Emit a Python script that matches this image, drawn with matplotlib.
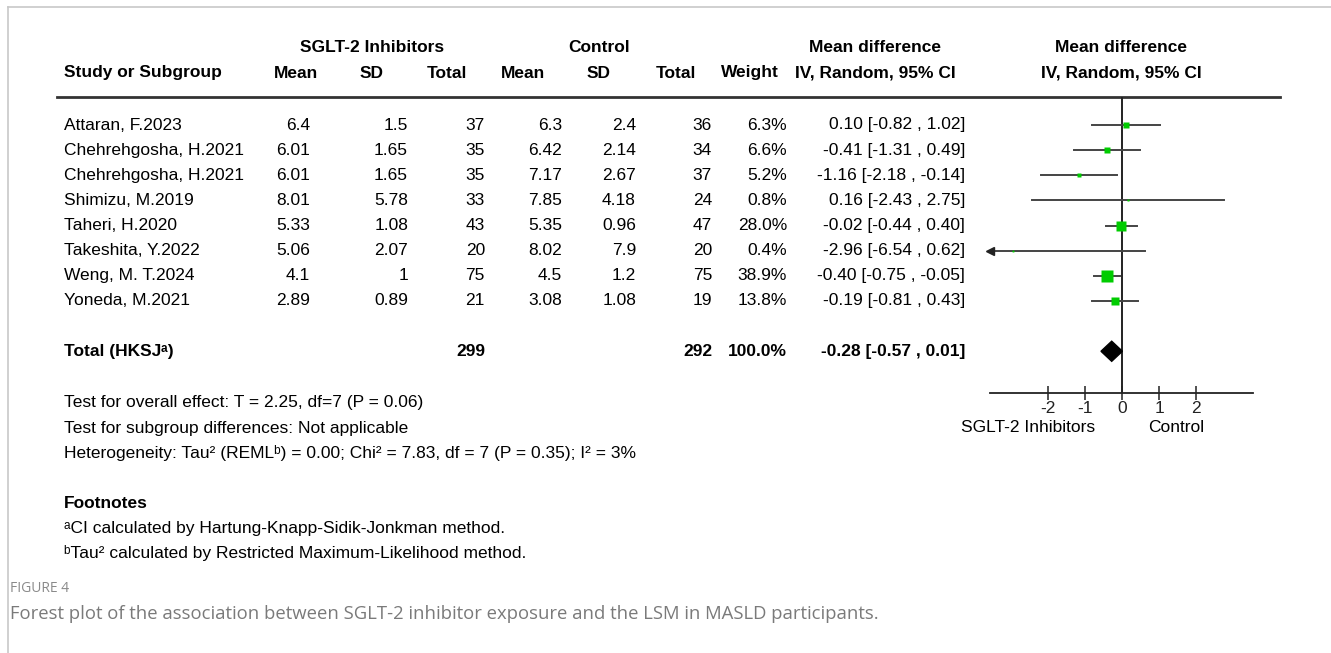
import matplotlib
matplotlib.use("Agg")
import matplotlib.pyplot as plt
import numpy as np

# study-level data
studies = ["Attaran, F.2023", "Chehrehgosha, H.2021", "Chehrehgosha, H.2021", "Shimizu, M.2019",
           "Taheri, H.2020", "Takeshita, Y.2022", "Weng, M. T.2024", "Yoneda, M.2021"]
exp_mean = ["6.4", "6.01", "6.01", "8.01", "5.33", "5.06", "4.1", "2.89"]
exp_sd = ["1.5", "1.65", "1.65", "5.78", "1.08", "2.07", "1", "0.89"]
exp_n = [37, 35, 35, 33, 43, 20, 75, 21]
ctl_mean = ["6.3", "6.42", "7.17", "7.85", "5.35", "8.02", "4.5", "3.08"]
ctl_sd = ["2.4", "2.14", "2.67", "4.18", "0.96", "7.9", "1.2", "1.08"]
ctl_n = [36, 34, 37, 24, 47, 20, 75, 19]
weight = [6.3, 6.6, 5.2, 0.8, 28.0, 0.4, 38.9, 13.8]
md = [0.10, -0.41, -1.16, 0.16, -0.02, -2.96, -0.40, -0.19]
ci_lo = [-0.82, -1.31, -2.18, -2.43, -0.44, -6.54, -0.75, -0.81]
ci_hi = [1.02, 0.49, -0.14, 2.75, 0.40, 0.62, -0.05, 0.43]

total_md, total_lo, total_hi = -0.28, -0.57, 0.01
total_exp_n, total_ctl_n = 299, 292
xticks = [-2, -1, 0, 1, 2]

W, H = 1331, 653
FONT = ["Liberation Sans", "DejaVu Sans"]
FS = 12.5
GREEN = "#00cc00"

fig = plt.figure(figsize=(W / 100, H / 100), dpi=100)
bg = fig.add_axes([0, 0, 1, 1])
bg.set_xlim(0, W)
bg.set_ylim(H, 0)
bg.axis("off")


def txt(x, y, s, ha="left", bold=False, size=FS, color="black", family=FONT):
    bg.text(x, y, s, ha=ha, va="center", fontsize=size, color=color,
            fontweight="bold" if bold else "normal", family=family)


# page frame
bg.plot([8, W], [7, 7], color="#c8c8c8", lw=1.2)
bg.plot([8, 8], [7, H], color="#c8c8c8", lw=1.2)

# column headers
txt(372, 48, "SGLT-2 Inhibitors", ha="center", bold=True)
txt(599, 48, "Control", ha="center", bold=True)
txt(875, 48, "Mean difference", ha="center", bold=True)
txt(1121, 48, "Mean difference", ha="center", bold=True)
txt(64, 73, "Study or Subgroup", bold=True)
for x, s in [(296, "Mean"), (372, "SD"), (447, "Total"), (523, "Mean"), (599, "SD"),
             (676, "Total"), (750, "Weight"), (875, "IV, Random, 95% CI"),
             (1121, "IV, Random, 95% CI")]:
    txt(x, 73, s, ha="center", bold=True)
bg.plot([57, 1280], [97, 97], color="#333333", lw=2)

# study rows
row0, dy = 125, 25.14
for i, name in enumerate(studies):
    y = row0 + i * dy
    txt(64, y, name)
    txt(310, y, exp_mean[i], ha="right")
    txt(408, y, exp_sd[i], ha="right")
    txt(485, y, str(exp_n[i]), ha="right")
    txt(562, y, ctl_mean[i], ha="right")
    txt(636, y, ctl_sd[i], ha="right")
    txt(712, y, str(ctl_n[i]), ha="right")
    txt(787, y, f"{weight[i]:.1f}%", ha="right")
    txt(965, y, f"{md[i]:.2f} [{ci_lo[i]:.2f} , {ci_hi[i]:.2f}]", ha="right")

# pooled row
yt = row0 + 9 * dy
txt(64, yt, "Total (HKSJ\u1d43)", bold=True)
txt(485, yt, str(total_exp_n), ha="right", bold=True)
txt(712, yt, str(total_ctl_n), ha="right", bold=True)
txt(787, yt, "100.0%", ha="right", bold=True)
txt(965, yt, f"{total_md:.2f} [{total_lo:.2f} , {total_hi:.2f}]", ha="right", bold=True)

# test statistics
txt(64, 403, "Test for overall effect: T = 2.25, df=7 (P = 0.06)")
txt(64, 428, "Test for subgroup differences: Not applicable")
txt(64, 453, "Heterogeneity: Tau\u00b2 (REML\u1d47) = 0.00; Chi\u00b2 = 7.83, df = 7 (P = 0.35); I\u00b2 = 3%")

# footnotes
txt(64, 504, "Footnotes", bold=True)
txt(64, 528, "\u1d43CI calculated by Hartung-Knapp-Sidik-Jonkman method.")
txt(64, 553, "\u1d47Tau\u00b2 calculated by Restricted Maximum-Likelihood method.")

# caption
txt(10, 588, "FIGURE 4", size=10, color="#8a8a8a", family=["Open Sans", "DejaVu Sans"])
txt(10, 614, "Forest plot of the association between SGLT-2 inhibitor exposure and the LSM in MASLD participants.",
    size=13.3, color="#7a7a7a", family=["Open Sans", "DejaVu Sans"])

# forest plot panel
x_left, x_right = 990, 1253
y_top, y_axis = 97, 393
xmin, xmax = -3.57, 3.54
ax = fig.add_axes([x_left / W, 1 - y_axis / H, (x_right - x_left) / W, (y_axis - y_top) / H])
ax.patch.set_alpha(0)
ax.set_xlim(xmin, xmax)
ax.set_ylim((y_axis - row0) / dy, (y_top - row0) / dy)
for side in ["top", "left", "right"]:
    ax.spines[side].set_visible(False)
ax.spines["bottom"].set_color("#222222")
ax.spines["bottom"].set_linewidth(1.3)
ax.set_yticks([])
ax.set_xticks(xticks)
ax.set_xticklabels([str(t) for t in xticks], fontsize=FS, family=FONT)
ax.tick_params(axis="x", direction="inout", length=10, width=1.1, pad=1, colors="#222222")
ax.axvline(0, color="#222222", lw=1.4, zorder=1)

for i in range(len(studies)):
    lo = max(ci_lo[i], xmin)
    ax.plot([lo, ci_hi[i]], [i, i], color="#444444", lw=1.4, zorder=2)
    if ci_lo[i] < xmin:
        ax.plot(xmin, i, marker="<", color="#222222", ms=6, zorder=3, clip_on=False)
    # square area scales with study weight
    ms = 0.6 + 1.2 * np.sqrt(weight[i])
    ax.plot(md[i], i, marker="s", color=GREEN, ms=ms, mec="none", zorder=4)

# pooled diamond
ax.fill([total_lo, total_md, total_hi, total_md], [9, 9 - 0.4, 9, 9 + 0.4],
        color="black", zorder=4)

txt(1028, 428, "SGLT-2 Inhibitors", ha="center")
txt(1176, 428, "Control", ha="center")

fig.savefig("out.png", dpi=100)
